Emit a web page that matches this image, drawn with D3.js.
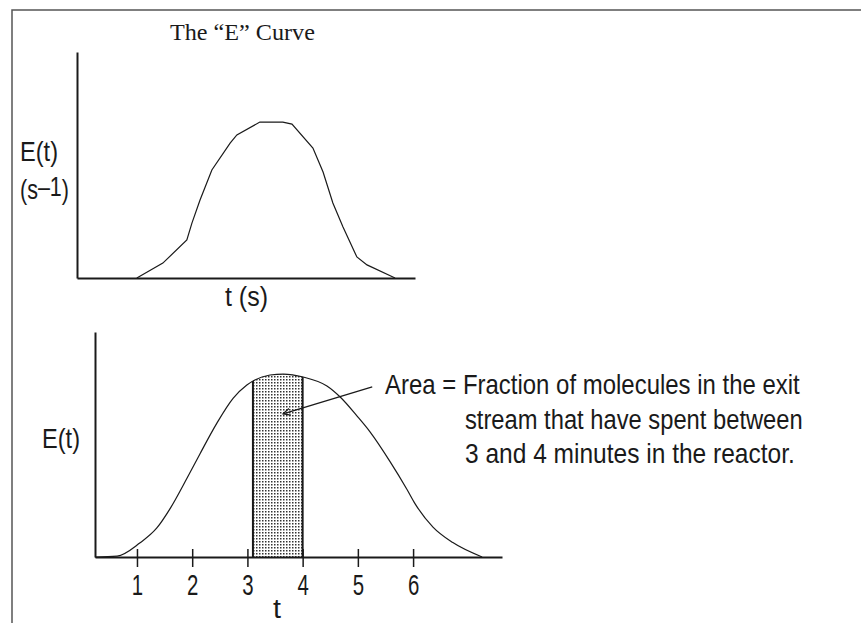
<!DOCTYPE html>
<html><head><meta charset="utf-8">
<script src="https://cdn.jsdelivr.net/npm/d3@7"></script>
<style>html,body{margin:0;padding:0;background:#fff;} svg{display:block;}</style>
</head><body>
<script>
// ---------- data ----------
const titleText = "The \u201CE\u201D Curve";
// top "E" curve (arbitrary units: t 0..100 across the axis, E 0..100 up the axis)
const topT = [17.7, 25.4, 32.5, 34.0, 36.4, 39.9, 45.3, 47.3, 54.1, 60.9, 63.6, 69.8, 72.8, 75.7, 78.7, 82.8, 85.8, 94.1];
const topE = [0, 6.6, 16.8, 24.3, 34.5, 47.8, 59.7, 63.3, 69.0, 69.0, 68.1, 57.5, 46.9, 33.2, 22.6, 9.3, 5.8, 0];
// bottom curve (t in minutes, E relative to axis height)
const botT = [0.24, 0.64, 1.05, 1.36, 1.60, 1.91, 2.14, 2.45, 2.74, 2.99, 3.41, 3.65, 4.01, 4.44, 4.68, 4.99, 5.22, 5.58, 5.89, 6.04, 6.36, 6.72, 7.25];
const botE = [0, 0.004, 0.062, 0.129, 0.215, 0.352, 0.458, 0.596, 0.705, 0.764, 0.809, 0.813, 0.800, 0.760, 0.711, 0.625, 0.556, 0.425, 0.300, 0.235, 0.133, 0.064, 0];
const tickValues = [1, 2, 3, 4, 5, 6];
const tickLabels = ["1", "2", "3", "4", "5", "6"];
const shadeRange = [3.1, 4.0];
const annotationLines = ["Area = Fraction of molecules in the exit",
                         "stream that have spent between",
                         "3 and 4 minutes in the reactor."];
const arrowFrom = [5.26, 0.756];
const arrowTo = [3.645, 0.636];

// ---------- setup ----------
const W = 861, H = 623;
const SANS = "'Liberation Sans', Arial, sans-serif";
const SERIF = "'Liberation Serif', 'Times New Roman', serif";
const INK = "#1a1a1a";
const svg = d3.select("body").append("svg").attr("width", W).attr("height", H);
svg.append("rect").attr("width", W).attr("height", H).attr("fill", "#fff");

const defs = svg.append("defs");
const pat = defs.append("pattern").attr("id", "dots").attr("patternUnits", "userSpaceOnUse")
  .attr("width", 3).attr("height", 3);
pat.append("rect").attr("width", 3).attr("height", 3).attr("fill", "#fff");
pat.append("rect").attr("x", 1).attr("y", 1).attr("width", 1.5).attr("height", 1.5).attr("fill", "#333");

// frame
svg.append("path").attr("d", `M12,${H}V10H${W}`).attr("fill", "none")
  .attr("stroke", "#555").attr("stroke-width", 1.5);

// helper: text squeezed horizontally to a target width
function fitText(parent, build, x, y, width, family, size, anchor) {
  const t = parent.append("text").attr("font-family", family).attr("font-size", size)
    .attr("fill", INK).attr("x", 0).attr("y", 0);
  build(t);
  const w = t.node().getComputedTextLength();
  const sx = width / w;
  let x0 = x;
  if (anchor === "middle") x0 = x - width / 2;
  t.attr("transform", `translate(${x0},${y}) scale(${sx},1)`);
  return t;
}

// ---------- top chart ----------
const xTop = d3.scaleLinear().domain([0, 100]).range([77, 415]);
const yTop = d3.scaleLinear().domain([0, 100]).range([278, 52]);
const gTop = svg.append("g");

gTop.append("g").attr("transform", `translate(0,${yTop(0)})`)
  .call(d3.axisBottom(xTop).tickValues([]).tickSizeOuter(0))
  .call(g => g.select(".domain").attr("stroke", INK).attr("stroke-width", 2));
gTop.append("g").attr("transform", `translate(${xTop(0)},0)`)
  .call(d3.axisLeft(yTop).tickValues([]).tickSizeOuter(0))
  .call(g => g.select(".domain").attr("stroke", INK).attr("stroke-width", 2));

const topData = topT.map((t, i) => [t, topE[i]]);
gTop.append("path").datum(topData)
  .attr("d", d3.line().x(d => xTop(d[0])).y(d => yTop(d[1])).curve(d3.curveLinear))
  .attr("fill", "none").attr("stroke", INK).attr("stroke-width", 1.2);

fitText(svg, t => t.text(titleText), 170, 40, 145, SERIF, 24, "start");
fitText(svg, t => t.text("E(t)"), 20, 161, 38, SANS, 28, "start");
fitText(svg, t => {
  t.append("tspan").text("(s");
  t.append("tspan").attr("dy", -3).text("\u20131");
  t.append("tspan").attr("dy", 3).text(")");
}, 20, 199, 49, SANS, 28, "start");
fitText(svg, t => t.text("t (s)"), 225, 306, 43, SANS, 28, "start");

// ---------- bottom chart ----------
const xBot = d3.scaleLinear().domain([0.24, 7.61]).range([95, 502]);
const yBot = d3.scaleLinear().domain([0, 1]).range([557, 332]);
const gBot = svg.append("g");
const botData = botT.map((t, i) => [t, botE[i]]);
const curve = d3.curveMonotoneX;

// shaded area
const areaGen = d3.area().x(d => xBot(d[0])).y0(yBot(0)).y1(d => yBot(d[1])).curve(curve);
defs.append("clipPath").attr("id", "shadeClip").append("rect")
  .attr("x", xBot(shadeRange[0])).attr("y", 0)
  .attr("width", xBot(shadeRange[1]) - xBot(shadeRange[0])).attr("height", H);
defs.append("clipPath").attr("id", "underCurve").append("path").datum(botData).attr("d", areaGen);
gBot.append("path").datum(botData).attr("d", areaGen)
  .attr("fill", "url(#dots)").attr("clip-path", "url(#shadeClip)");
const edges = gBot.append("g").attr("clip-path", "url(#underCurve)");
shadeRange.forEach(v => {
  edges.append("line").attr("x1", xBot(v)).attr("x2", xBot(v))
    .attr("y1", yBot(0)).attr("y2", yBot(1))
    .attr("stroke", INK).attr("stroke-width", 2);
});

// axes
const xAxisG = gBot.append("g").attr("transform", `translate(0,${yBot(0)})`)
  .call(d3.axisBottom(xBot).tickValues(tickValues).tickFormat((d, i) => tickLabels[i])
        .tickSize(10).tickSizeOuter(0));
xAxisG.select(".domain").attr("stroke", INK).attr("stroke-width", 2);
xAxisG.selectAll(".tick line").attr("y1", -8).attr("y2", 10).attr("stroke", INK).attr("stroke-width", 1.5);
xAxisG.selectAll(".tick text").attr("y", 38).attr("dy", 0)
  .attr("font-family", SANS).attr("font-size", 30).attr("fill", INK)
  .attr("transform", "scale(0.68,1)");
gBot.append("g").attr("transform", `translate(${xBot(0.24)},0)`)
  .call(d3.axisLeft(yBot).tickValues([]).tickSizeOuter(0))
  .call(g => g.select(".domain").attr("stroke", INK).attr("stroke-width", 2));

// curve
gBot.append("path").datum(botData)
  .attr("d", d3.line().x(d => xBot(d[0])).y(d => yBot(d[1])).curve(curve))
  .attr("fill", "none").attr("stroke", INK).attr("stroke-width", 1.2);

// arrow
const ax1 = xBot(arrowFrom[0]), ay1 = yBot(arrowFrom[1]);
const ax2 = xBot(arrowTo[0]), ay2 = yBot(arrowTo[1]);
gBot.append("line").attr("x1", ax1).attr("y1", ay1).attr("x2", ax2).attr("y2", ay2)
  .attr("stroke", INK).attr("stroke-width", 1.2);
const ang = Math.atan2(ay2 - ay1, ax2 - ax1);
const hl = 8, ha = 0.45;
gBot.append("path")
  .attr("d", `M${ax2 - hl * Math.cos(ang - ha)},${ay2 - hl * Math.sin(ang - ha)}L${ax2},${ay2}L${ax2 - hl * Math.cos(ang + ha)},${ay2 - hl * Math.sin(ang + ha)}`)
  .attr("fill", "none").attr("stroke", INK).attr("stroke-width", 1.2);

// labels
fitText(svg, t => t.text("E(t)"), 42, 448, 38, SANS, 28, "start");
fitText(svg, t => t.text("t"), 277, 618, 8, SANS, 27, "middle");

// annotation
const annX = [385, 465, 465], annY = [394, 429, 463], annW = [415, 338, 330];
annotationLines.forEach((s, i) => {
  fitText(svg, t => t.text(s), annX[i], annY[i], annW[i], SANS, 27, "start");
});
</script>
</body></html>
